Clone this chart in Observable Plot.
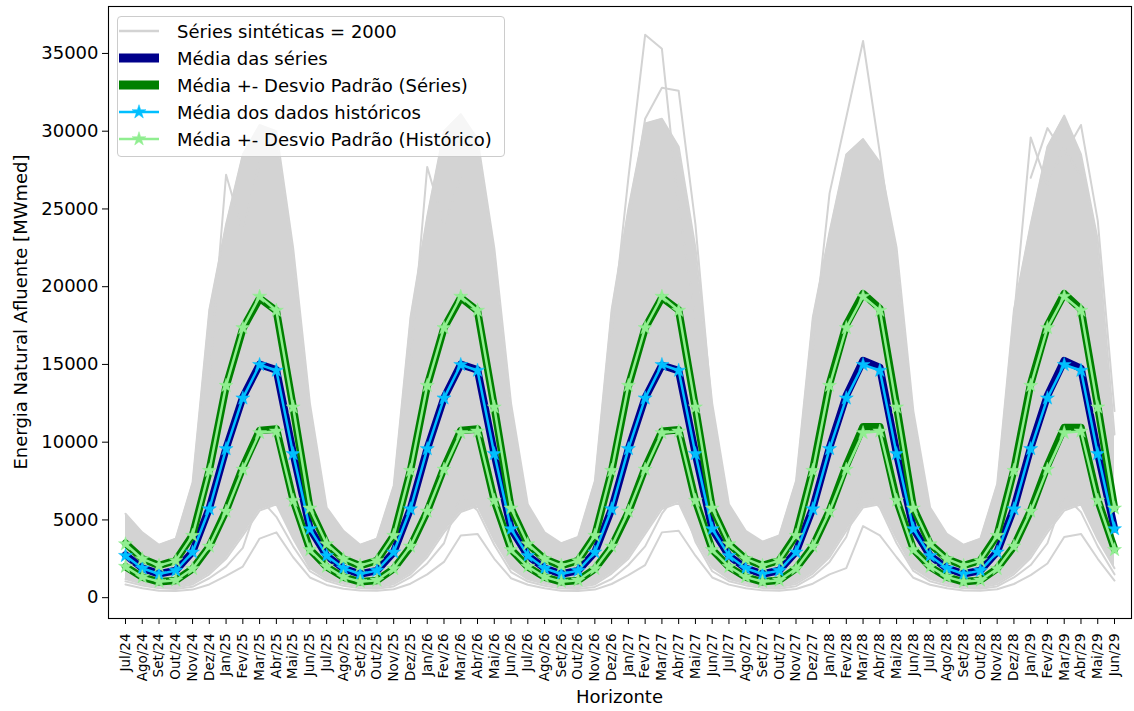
<!DOCTYPE html>
<html>
<head>
<meta charset="utf-8">
<script src="https://cdn.jsdelivr.net/npm/d3@7"></script>
<script src="https://cdn.jsdelivr.net/npm/@observablehq/plot@0.6"></script>
<style>
  body { margin: 0; background: #fff; font-family: "DejaVu Sans", sans-serif; }
  #wrap { position: relative; width: 1134px; height: 711px; overflow: hidden; }
  #wrap svg { position: absolute; left: 0; top: 0; }
  .xlabel { position: absolute; left: 108px; width: 1023px; top: 686px; text-align: center; font-size: 18px; color: #000; }
  .ylabel { position: absolute; left: 20px; top: 312px; font-size: 18px; white-space: nowrap; color: #000;
            transform: translate(-50%, -50%) rotate(-90deg); }
  #legend { position: absolute; left: 117px; top: 16px; width: 388px; height: 141px; box-sizing: border-box;
            border: 1px solid #cccccc; border-radius: 4px; background: rgba(255,255,255,0.8); }
  .row { position: absolute; left: 0; height: 22px; line-height: 22px; font-size: 18px; color: #000; white-space: nowrap; }
  .row svg { position: absolute; left: 6px; top: 1px; }
  .row span { position: absolute; left: 59px; top: 0; }
</style>
</head>
<body>
<div id="wrap"></div>
<script>
// ---- Tick labels ----
const monthLabels = [
  "Jul/24","Ago/24","Set/24","Out/24","Nov/24","Dez/24","Jan/25","Fev/25","Mar/25","Abr/25","Mai/25","Jun/25",
  "Jul/25","Ago/25","Set/25","Out/25","Nov/25","Dez/25","Jan/26","Fev/26","Mar/26","Abr/26","Mai/26","Jun/26",
  "Jul/26","Ago/26","Set/26","Out/26","Nov/26","Dez/26","Jan/27","Fev/27","Mar/27","Abr/27","Mai/27","Jun/27",
  "Jul/27","Ago/27","Set/27","Out/27","Nov/27","Dez/27","Jan/28","Fev/28","Mar/28","Abr/28","Mai/28","Jun/28",
  "Jul/28","Ago/28","Set/28","Out/28","Nov/28","Dez/28","Jan/29","Fev/29","Mar/29","Abr/29","Mai/29","Jun/29"
];
const yTicks = [0, 5000, 10000, 15000, 20000, 25000, 30000, 35000];

// ---- Synthetic series cloud (2000 series), summarised: dense envelope, low lines, extreme traces ----
const grayUpper = [
  5400, 4200, 3400, 3800, 7400, 18500, 24000, 28500, 30400, 30000, 22500, 12500,
  5800, 4300, 3400, 3800, 7200, 18000, 24500, 30000, 31100, 29500, 22500, 12500,
  6000, 4200, 3500, 3900, 7500, 18500, 25000, 30500, 30800, 29000, 22500, 12500,
  6000, 4300, 3600, 4000, 7500, 18000, 23500, 28500, 29500, 28000, 22500, 12000,
  5800, 4100, 3400, 3800, 7300, 18500, 24000, 29000, 31000, 28500, 23000, 10500
];
const grayLowerDense = [
  1200, 900, 700, 650, 850, 1500, 2500, 4000, 5600, 6000, 3800, 1900,
  1200, 900, 710, 660, 870, 1500, 2600, 4200, 5500, 5900, 3700, 1900,
  1180, 890, 700, 670, 850, 1550, 2500, 4100, 5700, 6100, 3800, 1950,
  1200, 910, 710, 680, 880, 1550, 2600, 4300, 5800, 6000, 3800, 1900,
  1200, 900, 700, 660, 860, 1500, 2550, 4200, 5600, 6000, 3750, 1900
];
const grayMin = [
  850, 600, 450, 430, 520, 850, 1400, 2000, 3800, 4200, 2600, 1300,
  820, 580, 460, 440, 540, 900, 1500, 2300, 4000, 4100, 2500, 1250,
  830, 600, 450, 430, 520, 880, 1450, 2100, 4200, 4300, 2700, 1300,
  840, 610, 470, 450, 560, 900, 1500, 1900, 4600, 4000, 2600, 1280,
  830, 600, 460, 440, 540, 880, 1450, 2200, 3900, 4100, 2500, 1100
];
const graySparse = [
  1050, 780, 600, 560, 700, 1250, 2000, 3200, 6400, 5200, 3300, 1700,
  1080, 760, 610, 570, 720, 1300, 2200, 3500, 6600, 5600, 3400, 1650,
  1040, 770, 590, 560, 690, 1200, 2100, 3300, 5400, 6800, 3600, 1700,
  1060, 790, 620, 580, 740, 1350, 2300, 3900, 7000, 5800, 3500, 1720,
  1050, 770, 600, 570, 720, 1300, 2100, 3500, 6600, 5500, 3300, 1500
];
const spikeStarts = [5, 17, 29, 30, 41, 53, 54];
const spikeValues = [
  [14000, 27200, 23500, 28000],
  [15000, 27700, 24000, 27000],
  [17000, 27000, 36200, 35300, 25000, 18000],
  [24000, 30800, 32800, 32600, 24000, 12000],
  [16000, 26000, 30900, 35800, 28600, 21000, 11000],
  [18000, 29600, 26500, 29000, 27000],
  [27000, 30200, 28500, 30400, 24250, 12000]
];

// ---- Mean and mean +- std of the synthetic series ----
const seriesMean = [
  2750, 1900, 1530, 1750, 2950, 5750, 9600, 12900, 15000, 14650, 9300, 4450,
  2700, 1880, 1520, 1740, 2930, 5720, 9580, 12850, 15000, 14650, 9250, 4430,
  2700, 1890, 1520, 1740, 2920, 5700, 9550, 12850, 14950, 14600, 9250, 4420,
  2700, 1890, 1520, 1750, 2950, 5750, 9650, 13000, 15250, 14800, 9300, 4450,
  2700, 1890, 1530, 1750, 2950, 5750, 9650, 13000, 15250, 14750, 9300, 4430
];
const seriesUpper = [
  3500, 2500, 2070, 2400, 4020, 8200, 13600, 17300, 19250, 18450, 12250, 5750,
  3450, 2480, 2060, 2380, 4000, 8170, 13620, 17350, 19300, 18450, 12250, 5750,
  3450, 2490, 2060, 2380, 3990, 8150, 13600, 17350, 19300, 18500, 12200, 5750,
  3450, 2490, 2070, 2400, 4020, 8220, 13750, 17550, 19550, 18600, 12300, 5780,
  3450, 2490, 2070, 2400, 4020, 8220, 13750, 17500, 19550, 18550, 12300, 5750
];
const seriesLower = [
  2000, 1320, 1020, 1110, 1850, 3300, 5600, 8400, 10750, 10850, 6300, 3100,
  1980, 1320, 1020, 1110, 1860, 3280, 5550, 8350, 10750, 10850, 6250, 3100,
  1980, 1320, 1020, 1110, 1850, 3280, 5500, 8350, 10700, 10800, 6250, 3090,
  1980, 1320, 1020, 1120, 1880, 3300, 5600, 8500, 11000, 11000, 6300, 3120,
  1980, 1320, 1020, 1120, 1880, 3300, 5600, 8500, 10950, 10950, 6300, 3110
];

// ---- Historical data: mean and mean +- std ----
const histMean = [
  2700, 1890, 1520, 1740, 2920, 5700, 9570, 12830, 14980, 14610, 9250, 4420,
  2700, 1890, 1520, 1740, 2920, 5700, 9570, 12830, 14980, 14610, 9250, 4420,
  2700, 1890, 1520, 1740, 2920, 5700, 9570, 12830, 14980, 14610, 9250, 4420,
  2700, 1890, 1520, 1740, 2920, 5700, 9570, 12830, 14980, 14610, 9250, 4420,
  2700, 1890, 1520, 1740, 2920, 5700, 9570, 12830, 14980, 14610, 9250, 4420
];
const histUpper = [
  3450, 2490, 2060, 2380, 3990, 8170, 13640, 17350, 19370, 18470, 12250, 5750,
  3450, 2490, 2060, 2380, 3990, 8170, 13640, 17350, 19370, 18470, 12250, 5750,
  3450, 2490, 2060, 2380, 3990, 8170, 13640, 17350, 19370, 18470, 12250, 5750,
  3450, 2490, 2060, 2380, 3990, 8170, 13640, 17350, 19370, 18470, 12250, 5750,
  3450, 2490, 2060, 2380, 3990, 8170, 13640, 17350, 19370, 18470, 12250, 5750
];
const histLower = [
  2000, 1330, 1030, 1120, 1860, 3300, 5550, 8250, 10600, 10700, 6250, 3080,
  2000, 1330, 1030, 1120, 1860, 3300, 5550, 8250, 10600, 10700, 6250, 3080,
  2000, 1330, 1030, 1120, 1860, 3300, 5550, 8250, 10600, 10700, 6250, 3080,
  2000, 1330, 1030, 1120, 1860, 3300, 5550, 8250, 10600, 10700, 6250, 3080,
  2000, 1330, 1030, 1120, 1860, 3300, 5550, 8250, 10600, 10700, 6250, 3080
];

// ---- Colours ----
const cGray = "#d3d3d3", cNavy = "#00008b", cGreen = "#008000", cCyan = "#00bfff", cLight = "#90ee90";

const idx = d3.range(monthLabels.length);
const lineOf = (arr, opts) => Plot.line(idx, {x: i => i, y: i => arr[i], ...opts});
const starsOf = (arr, color) => Plot.dot(idx, {x: i => i, y: i => arr[i], symbol: "star", fill: color, stroke: color, strokeWidth: 0.5, r: 4.4});

const marks = [
  Plot.areaY(idx, {x: i => i, y1: i => grayLowerDense[i], y2: i => grayUpper[i], fill: cGray}),
  lineOf(grayUpper, {stroke: cGray, strokeWidth: 2}),
  lineOf(grayLowerDense, {stroke: cGray, strokeWidth: 2}),
  lineOf(graySparse, {stroke: cGray, strokeWidth: 2}),
  lineOf(grayMin, {stroke: cGray, strokeWidth: 2}),
  ...spikeValues.map((vals, k) => Plot.line(vals, {x: (d, j) => spikeStarts[k] + j, y: d => d, stroke: cGray, strokeWidth: 2})),
  lineOf(seriesMean, {stroke: cNavy, strokeWidth: 7.5}),
  lineOf(seriesUpper, {stroke: cGreen, strokeWidth: 7.5}),
  lineOf(seriesLower, {stroke: cGreen, strokeWidth: 7.5}),
  lineOf(histMean, {stroke: cCyan, strokeWidth: 2.5}),
  starsOf(histMean, cCyan),
  lineOf(histUpper, {stroke: cLight, strokeWidth: 2.5}),
  starsOf(histUpper, cLight),
  lineOf(histLower, {stroke: cLight, strokeWidth: 2.5}),
  starsOf(histLower, cLight),
  Plot.axisY(yTicks, {tickSize: 6, tickPadding: 4, fontSize: 18, tickFormat: d => String(d), label: null}),
  Plot.axisX(idx, {tickSize: 6, tickPadding: 9, tickRotate: -90, fontSize: 13.5, tickFormat: i => monthLabels[i], label: null}),
  Plot.frame({stroke: "black", strokeWidth: 1.1})
];

const chart = Plot.plot({
  width: 1134,
  height: 711,
  marginLeft: 108,
  marginRight: 3,
  marginTop: 6,
  marginBottom: 93,
  x: {domain: [-1.014, 60.014]},
  y: {domain: [-1339, 38019]},
  style: {fontFamily: "DejaVu Sans", background: "transparent", color: "#000"},
  marks
});

const wrap = document.getElementById("wrap");
wrap.appendChild(chart);

// Axis titles
const xl = document.createElement("div");
xl.className = "xlabel"; xl.textContent = "Horizonte";
wrap.appendChild(xl);
const yl = document.createElement("div");
yl.className = "ylabel"; yl.textContent = "Energia Natural Afluente [MWmed]";
wrap.appendChild(yl);

// Legend
const legendItems = [
  {label: "Séries sintéticas = 2000", color: cGray, width: 2.5, star: false},
  {label: "Média das séries", color: cNavy, width: 9, star: false},
  {label: "Média +- Desvio Padrão (Séries)", color: cGreen, width: 9, star: false},
  {label: "Média dos dados históricos", color: cCyan, width: 2.5, star: true},
  {label: "Média +- Desvio Padrão (Histórico)", color: cLight, width: 2.5, star: true}
];
const legendRowTops = [4, 31, 58, 85, 112];
const legend = document.createElement("div");
legend.id = "legend";
const starPath = d3.symbol(d3.symbolStar, Math.PI * 4.4 * 4.4)();
legendItems.forEach((it, k) => {
  const row = document.createElement("div");
  row.className = "row";
  row.style.top = legendRowTops[k] + "px";
  row.innerHTML =
    `<svg width="42" height="20" viewBox="0 0 42 20">
       <line x1="1" x2="41" y1="10" y2="10" stroke="${it.color}" stroke-width="${it.width}"/>
       ${it.star ? `<path d="${starPath}" transform="translate(21,10)" fill="${it.color}" stroke="${it.color}" stroke-width="0.5"/>` : ""}
     </svg><span>${it.label}</span>`;
  legend.appendChild(row);
});
wrap.appendChild(legend);
</script>
</body>
</html>
